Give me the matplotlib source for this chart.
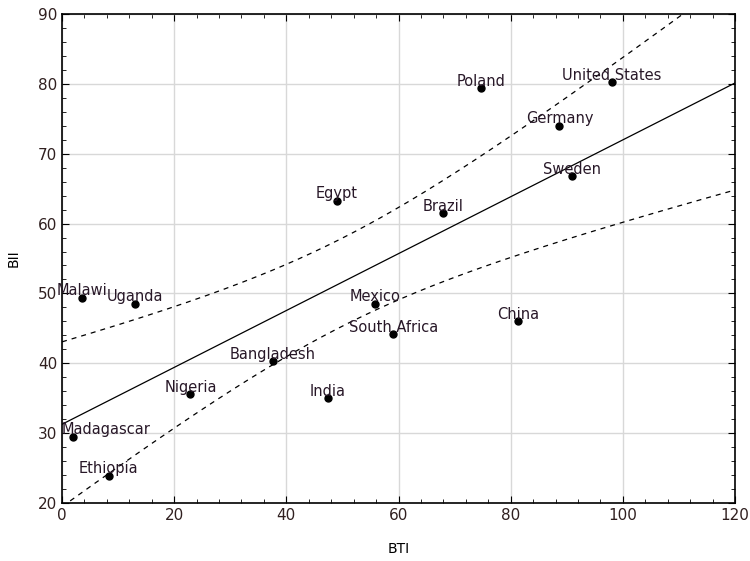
import numpy as np
import matplotlib.pyplot as plt
from matplotlib.ticker import MultipleLocator

# country scores
countries = ["Malawi", "Uganda", "Madagascar", "Ethiopia", "Nigeria", "Bangladesh",
             "India", "Egypt", "Brazil", "Mexico", "South Africa", "China",
             "Poland", "United States", "Germany", "Sweden"]
bti = [3.6, 13.0, 1.9, 8.3, 22.9, 37.6, 47.4, 49.0, 67.9, 55.8, 59.1, 81.3,
       74.7, 98.0, 88.7, 91.0]
bii = [49.4, 48.5, 29.5, 23.9, 35.6, 40.3, 35.0, 63.3, 61.5, 48.5, 44.2, 46.0,
       79.4, 80.2, 74.0, 66.8]

x = np.array(bti)
y = np.array(bii)
n = len(x)

# linear fit with 95% confidence band for the mean
b, a = np.polyfit(x, y, 1)
resid = y - (a + b * x)
s = np.sqrt(np.sum(resid ** 2) / (n - 2))
t95 = 2.145  # t(0.975, df=14)
xs = np.linspace(0, 120, 200)
yfit = a + b * xs
half = t95 * s * np.sqrt(1 / n + (xs - x.mean()) ** 2 / np.sum((x - x.mean()) ** 2))

fig = plt.figure(figsize=(7.5, 5.61), dpi=100)
ax = fig.add_axes([0.0827, 0.1034, 0.8973, 0.8716])

ax.plot(xs, yfit, color="black", lw=0.9)
ax.plot(xs, yfit + half, color="black", lw=0.9, ls=(0, (4, 4)))
ax.plot(xs, yfit - half, color="black", lw=0.9, ls=(0, (4, 4)))
ax.plot(x, y, "o", color="black", ms=5, zorder=3)

for name, xi, yi in zip(countries, bti, bii):
    dx = 24 if name == "Madagascar" else 0  # pushed inside the frame
    ax.annotate(name, (xi, yi), xytext=(dx, 5), textcoords="offset points",
                ha="center", va="center", fontsize=10.5, color="#281828")

ax.set_xlim(0, 120)
ax.set_ylim(20, 90)
ax.xaxis.set_major_locator(MultipleLocator(20))
ax.xaxis.set_minor_locator(MultipleLocator(4))
ax.yaxis.set_major_locator(MultipleLocator(10))
ax.yaxis.set_minor_locator(MultipleLocator(2))
ax.tick_params(which="both", direction="in", top=True, right=True, labelsize=11,
               labelcolor="#302020")
ax.tick_params(which="major", length=5)
ax.tick_params(which="minor", length=3)
ax.grid(True, which="major", color="#d8d8d8", lw=1)
ax.set_axisbelow(True)
for sp in ax.spines.values():
    sp.set_linewidth(1.2)

ax.set_xlabel("BTI", fontsize=10, labelpad=14)
ax.set_ylabel("BII", fontsize=10, labelpad=12)

fig.savefig("out.png", dpi=100)
